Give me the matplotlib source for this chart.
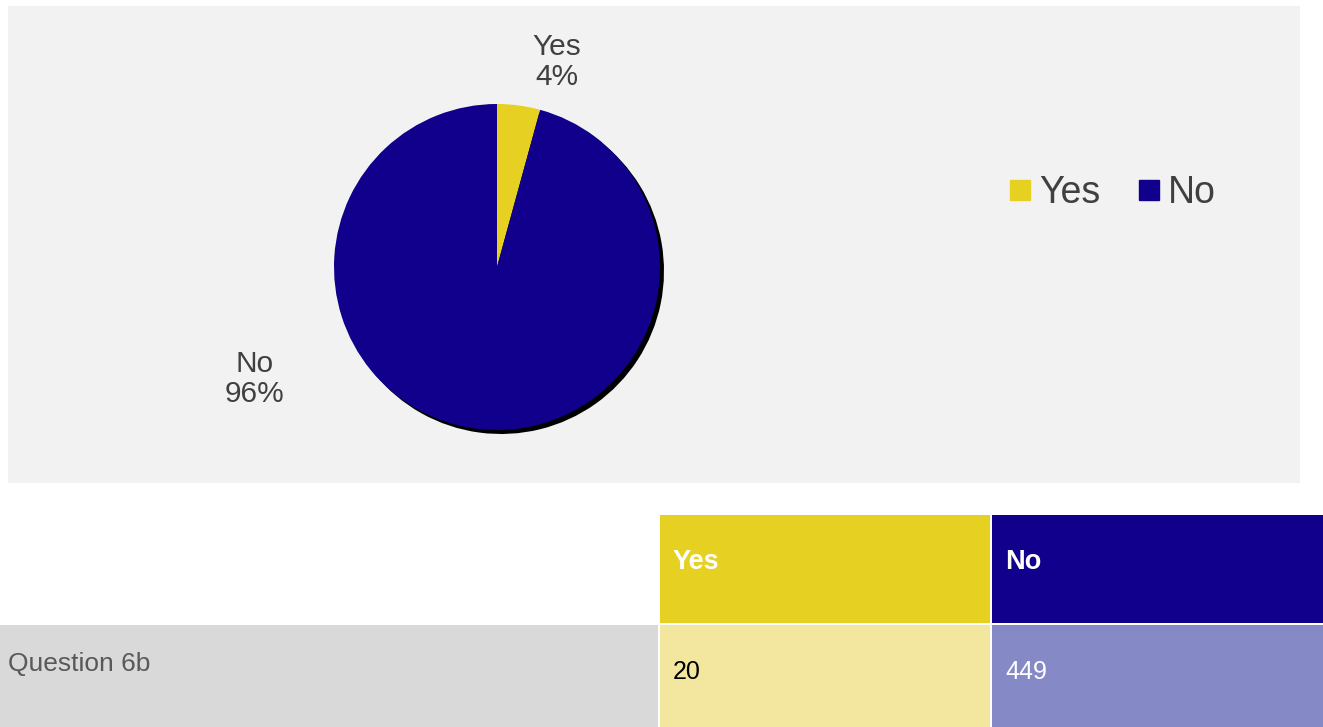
import matplotlib
matplotlib.use("Agg")
import matplotlib.pyplot as plt
from matplotlib.patches import Rectangle
from matplotlib.lines import Line2D

plt.rcParams["font.family"] = ["Liberation Sans", "DejaVu Sans"]

# Data
categories = ["Yes", "No"]
counts = [20, 449]
row_label = "Question 6b"
colors = ["#e6d123", "#10008c"]
light_colors = ["#f3e69f", "#8589c6"]
value_text_colors = ["black", "white"]

W, H = 1323, 727
fig = plt.figure(figsize=(W / 100, H / 100), dpi=100)
fig.patch.set_facecolor("white")


def px_rect(x0, y0, x1, y1):
    # pixel box (top-left origin) -> figure fraction [l, b, w, h]
    return [x0 / W, 1 - y1 / H, (x1 - x0) / W, (y1 - y0) / H]


# chart panel background
bg = fig.add_axes(px_rect(8, 6, 1300, 483))
bg.set_facecolor("#f2f2f2")
bg.set_xticks([])
bg.set_yticks([])
for s in bg.spines.values():
    s.set_visible(False)

# pie
R = 163
cx, cy = 497, 267
pad = 10
ax = fig.add_axes(px_rect(cx - R - pad, cy - R - pad, cx + R + pad, cy + R + pad))
ax.set_facecolor("none")
lim = (R + pad) / R
# shadow
ax.pie(counts, colors=["black", "black"], startangle=90, counterclock=False,
       center=(4 / R, -4 / R), radius=1)
ax.pie(counts, colors=colors, startangle=90, counterclock=False, radius=1,
       wedgeprops=dict(linewidth=0))
ax.set_xlim(-lim, lim)
ax.set_ylim(-lim, lim)
ax.set_aspect("equal")
ax.axis("off")

total = sum(counts)
label_pos = [(557, 62), (255, 379)]
for cat, c, (lx, ly) in zip(categories, counts, label_pos):
    fig.text(lx / W, 1 - ly / H, f"{cat}\n{round(100 * c / total)}%",
             ha="center", va="center", fontsize=21.5, color="#404040",
             linespacing=1.1)

# legend
handles = [Line2D([], [], marker="s", linestyle="none", markersize=14,
                  markerfacecolor=col, markeredgecolor=col) for col in colors]
fig.legend(handles, categories, loc="center left",
           bbox_to_anchor=(972 / W, 1 - 193 / H), ncol=2, frameon=False,
           fontsize=27, handletextpad=0.15, columnspacing=0.9, labelcolor="#404040",
           handlelength=0.75)

# table
tab = fig.add_axes([0, 0, 1, 1])
tab.set_xlim(0, W)
tab.set_ylim(H, 0)
tab.axis("off")
tab.set_zorder(-1)

col_edges = [(0, 658), (660, 990), (992, W)]
head_y = (515, 623)
row_y = (625, H)

# header row
tab.add_patch(Rectangle((col_edges[0][0], head_y[0]), col_edges[0][1] - col_edges[0][0],
                        head_y[1] - head_y[0], facecolor="white", lw=0))
for (x0, x1), cat, col in zip(col_edges[1:], categories, colors):
    tab.add_patch(Rectangle((x0, head_y[0]), x1 - x0, head_y[1] - head_y[0],
                            facecolor=col, lw=0))
    tab.text(x0 + 13, 562, cat, ha="left", va="center", fontsize=19.5,
             fontweight="bold", color="white")

# data row
tab.add_patch(Rectangle((col_edges[0][0], row_y[0]), col_edges[0][1] - col_edges[0][0],
                        row_y[1] - row_y[0], facecolor="#d9d9d9", lw=0))
tab.text(8, 664, row_label, ha="left", va="center", fontsize=19, color="#595959")
for (x0, x1), c, col, tc in zip(col_edges[1:], counts, light_colors, value_text_colors):
    tab.add_patch(Rectangle((x0, row_y[0]), x1 - x0, row_y[1] - row_y[0],
                            facecolor=col, lw=0))
    tab.text(x0 + 13, 672, str(c), ha="left", va="center", fontsize=18, color=tc)

fig.savefig("out.png", dpi=100)
